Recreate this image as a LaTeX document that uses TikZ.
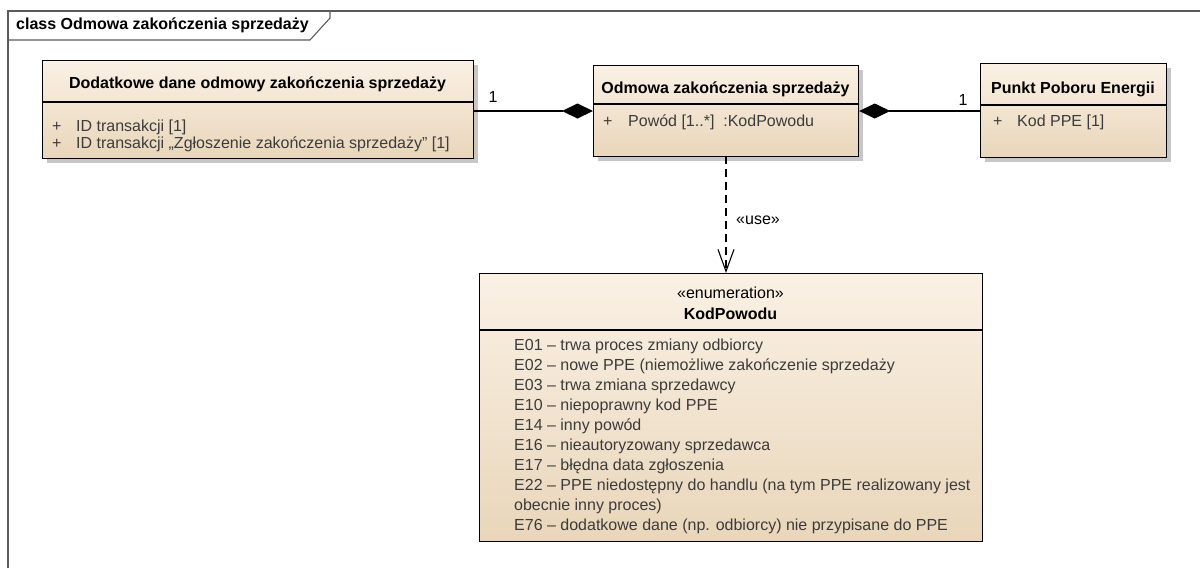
\documentclass[tikz,border=0pt]{standalone}
\usepackage{fontspec}
\setmainfont{Liberation Sans}
\usetikzlibrary{arrows.meta,shadows}
\definecolor{boxtop}{RGB}{250,241,229}
\definecolor{boxbot}{RGB}{233,214,186}
\definecolor{attr}{RGB}{60,60,60}
\definecolor{framec}{RGB}{90,90,90}
\begin{document}
\begin{tikzpicture}[x=1pt,y=-1pt,
  every node/.style={font=\fontsize{16}{20}\selectfont, inner sep=0pt},
  umlbox/.style={draw=black, line width=1.2pt, anchor=north west, top color=boxtop, bottom color=boxbot, shading angle=0},
  shad/.style={drop shadow={shadow xshift=4pt, shadow yshift=-4pt, opacity=1, fill=black!22}},
  ttl/.style={font=\fontsize{16}{20}\selectfont\bfseries},
  att/.style={anchor=west, text=attr},
  comp/.style={line width=1.2pt, {Diamond[length=31pt,width=15pt]}-},
]
\useasboundingbox (0,0) rectangle (1200,568);
% frame
\draw[framec, line width=1.3pt] (8,568) -- (8,11) -- (1200,11);
\draw[framec, line width=1.1pt] (8,40) -- (310,40) -- (330,18) -- (330,11);
\node[anchor=west, ttl] (frt) at (16,25) {class Odmowa zakończenia sprzedaży};

% box 1
\node[umlbox, shad, minimum width=431pt, minimum height=98pt] (b1) at (42,60) {};
\draw[line width=1.1pt] (42,102) -- (473,102);
\node[ttl] (b1t) at (257.5,84) {Dodatkowe dane odmowy zakończenia sprzedaży};
\node[att] (b1p1) at (52,127) {+};
\node[att] (b1a1) at (76,127) {ID transakcji [1]};
\node[att] (b1p2) at (52,144) {+};
\node[att] (b1a2) at (76,144) {ID transakcji „Zgłoszenie zakończenia sprzedaży” [1]};

% box 2
\node[umlbox, shad, minimum width=265pt, minimum height=91pt] (b2) at (593,65) {};
\draw[line width=1.1pt] (593,104) -- (858,104);
\node[ttl] (b2t) at (725.5,89) {Odmowa zakończenia sprzedaży};
\node[att] (b2p1) at (603,122) {+};
\node[att] (b2a1) at (628,122) {Powód [1..*]\ \ :KodPowodu};

% box 3
\node[umlbox, shad, minimum width=186pt, minimum height=94pt] (b3) at (980,63) {};
\draw[line width=1.1pt] (980,105) -- (1166,105);
\node[ttl] (b3t) at (1073,89) {Punkt Poboru Energii};
\node[att] (b3p1) at (993,122) {+};
\node[att] (b3a1) at (1017,122) {Kod PPE [1]};

% enumeration
\node[umlbox, minimum width=503pt, minimum height=268pt] (en) at (479,273) {};
\draw[line width=1.1pt] (479,330) -- (982,330);
\node (ens) at (730.5,293) {«enumeration»};
\node[ttl] (ent) at (730.5,314) {KodPowodu};
\foreach \t [count=\i] in {
  E01 – trwa proces zmiany odbiorcy,
  E02 – nowe PPE (niemożliwe zakończenie sprzedaży,
  E03 – trwa zmiana sprzedawcy,
  E10 – niepoprawny kod PPE,
  E14 – inny powód,
  E16 – nieautoryzowany sprzedawca,
  E17 – błędna data zgłoszenia,
  E22 – PPE niedostępny do handlu (na tym PPE realizowany jest,
  obecnie inny proces),
  E76 – dodatkowe dane (np. odbiorcy) nie przypisane do PPE}
  \node[att] (e\i) at (514,{346+20*(\i-1)}) {\t};

% connectors
\draw[comp] (b2.west |- 0,111) -- (b1.east |- 0,111);
\draw[comp] (b2.east |- 0,111) -- (b3.west |- 0,111);
\node (m1) at (493,97) {1};
\node (m2) at (963,100) {1};
\draw[line width=1.1pt, dash pattern=on 8pt off 5pt, -{Straight Barb[length=22pt,width=16pt,line width=1.1pt]}] (726,156) -- (726,273);
\node (use) at (758,220) {«use»};
\end{tikzpicture}
\end{document}
